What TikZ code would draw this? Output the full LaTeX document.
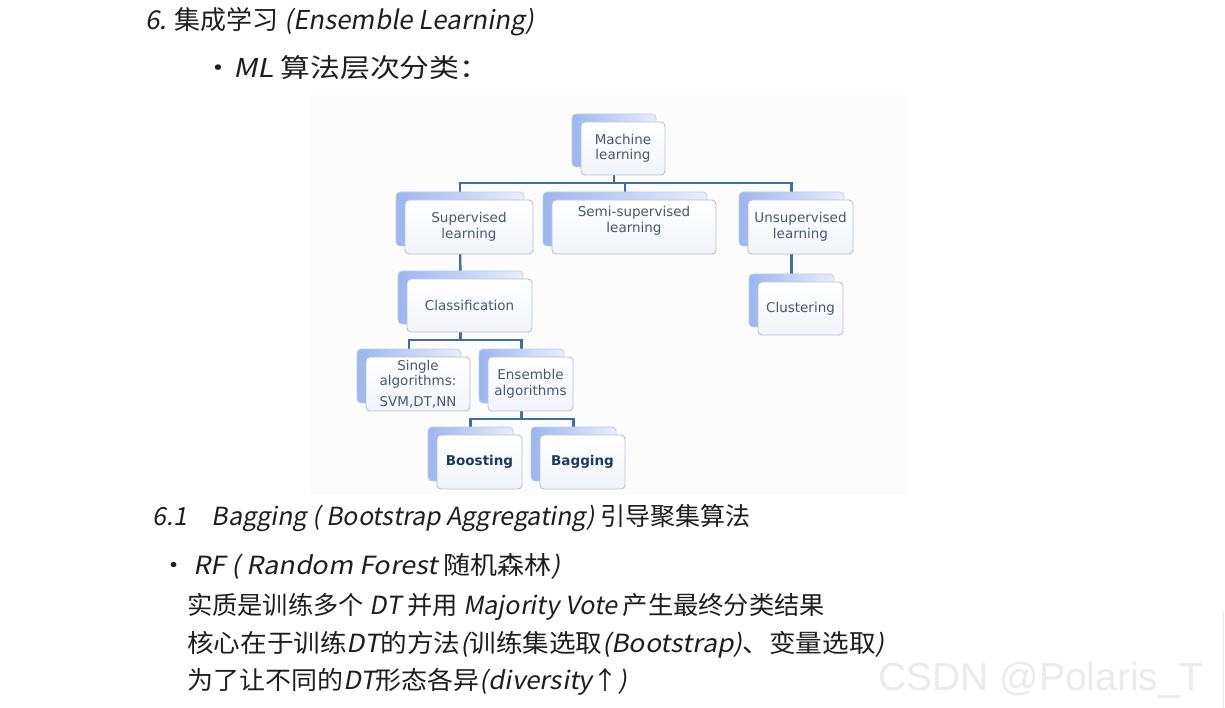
\documentclass[tikz,border=0pt]{standalone}
\usepackage{fontspec}
\usepackage{graphicx}
\setmainfont{DejaVu Sans}
\newfontfamily\hw{Noto Sans CJK SC}
\newfontfamily\hwi[FakeSlant=0.18]{Noto Sans CJK SC}
\newfontfamily\wmfont{Liberation Sans}
\usetikzlibrary{calc}
\pgfdeclarelayer{bgl}\pgfdeclarelayer{conl}
\pgfsetlayers{bgl,conl,main}
\definecolor{bbl}{HTML}{9DB5EE}
\definecolor{bbr}{HTML}{E8EEFB}
\definecolor{bbdraw}{HTML}{C3CEE8}
\definecolor{fbdraw}{HTML}{B6C1D4}
\definecolor{fbbot}{HTML}{F1F4FA}
\definecolor{boxtext}{HTML}{4B586C}
\definecolor{boldtext}{HTML}{1F3A5C}
\definecolor{connc}{HTML}{3F6E9F}
\definecolor{ink}{HTML}{1E1E1E}
\definecolor{wmc}{HTML}{EBEBEB}
\newcommand\mlbox[6]{%
  \node[backbox, minimum width=#4, minimum height=#5] (#1B) at (#2-9,#3-8) {};
  \node[frontbox, minimum width=#4, minimum height=#5] (#1) at (#2,#3) {#6};}
\begin{document}
\begin{tikzpicture}[x=1pt,y=-1pt,
  backbox/.style={rounded corners=4pt, draw=bbdraw, line width=0.8pt, left color=bbl, right color=bbr, inner sep=0pt},
  frontbox/.style={rounded corners=4pt, draw=fbdraw, line width=0.9pt, top color=white, bottom color=fbbot,
    inner sep=1pt, align=center, text=boxtext, font=\fontsize{13.5}{15.5}\selectfont},
  boxtxt/.style={align=center, text=boxtext, font=\fontsize{13.5}{15.5}\selectfont, inner sep=0pt},
  conn/.style={draw=connc, line width=2.4pt},
  hand/.style={anchor=west, text=ink, inner sep=0pt, font=\hw\fontsize{25}{29}\selectfont},
  handbig/.style={anchor=west, text=ink, inner sep=0pt, font=\hw\fontsize{26}{30}\selectfont}]
\useasboundingbox (0,0) rectangle (1225,708);
\begin{pgfonlayer}{bgl}
  \fill[white] (0,0) rectangle (1225,708);
  \fill[gray!2] (310,95) rectangle (908,495);
\end{pgfonlayer}

% boxes
\mlbox{ml}{623}{148.5}{84}{53}{Machine\\learning}
\mlbox{sup}{469}{227}{128}{54}{Supervised\\learning}
\mlbox{sem}{634}{227}{164}{54}{}
\node[boxtxt] (semt) at (634,221) {Semi-supervised\\learning};
\mlbox{uns}{800.5}{227}{105}{54}{Unsupervised\\learning}
\mlbox{cls}{469.5}{305.5}{125}{53}{Classification}
\mlbox{clu}{800.5}{308.5}{85}{53}{Clustering}
\mlbox{sgl}{418}{384}{104}{54}{Single\\algorithms:\\[5pt]SVM,DT,NN}
\mlbox{ens}{530.5}{384}{85}{54}{Ensemble\\algorithms}
\mlbox{boo}{479.5}{462}{85}{54}{\textcolor{boldtext}{\bfseries Boosting}}
\mlbox{bag}{582.5}{462}{85}{54}{\textcolor{boldtext}{\bfseries Bagging}}

% connectors
\begin{pgfonlayer}{conl}
  \coordinate (b1) at (0,183);
  \coordinate (b2) at (0,340);
  \coordinate (b3) at (0,419);
  \draw[conn] (mlB.center) -- (mlB.center |- b1);
  \draw[conn] (supB.center) |- (unsB.center |- b1) -- (unsB.center);
  \draw[conn] (semB.center |- b1) -- (semB.center);
  \draw[conn] (supB.center) -- (clsB.center);
  \draw[conn] (unsB.center) -- (cluB.center);
  \draw[conn] (clsB.center) -- (clsB.center |- b2);
  \draw[conn] (sglB.center) |- (ensB.center |- b2) -- (ensB.center);
  \draw[conn] (ensB.center) -- (ensB.center |- b3);
  \draw[conn] (booB.center) |- (bagB.center |- b3) -- (bagB.center);
\end{pgfonlayer}

% handwritten notes
\node[handbig] (t1) at (145,22) {{\hwi 6.} 集成学习 {\hwi (Ensemble Learning)}};
\node[handbig] (t2) at (203,68) {\scalebox{1.15}[1]{·{\hwi ML} 算法层次分类：}};
\node[hand] (t3) at (152,518) {{\hwi 6.1\quad Bagging ( Bootstrap Aggregating)} 引导聚集算法};
\node[hand] (t4) at (160,566) {\scalebox{1.08}[1]{· {\hwi RF ( Random Forest} 随机森林{\hwi )}}};
\node[hand] (t5) at (187,607) {\scalebox{1.01}[1]{实质是训练多个 {\hwi DT} 并用 {\hwi Majority Vote} 产生最终分类结果}};
\node[hand] (t6) at (187,645) {\scalebox{1.065}[1]{核心在于训练{\hwi DT}的方法{\hwi (}训练集选取{\hwi (Bootstrap)}、变量选取{\hwi )}}};
\node[hand] (t7) at (187,682) {\scalebox{1.04}[1]{为了让不同的{\hwi DT}形态各异{\hwi (diversity}↑{\hwi )}}};

% watermark
\node[anchor=west, inner sep=0pt, text=wmc, font=\wmfont\fontsize{39}{44}\selectfont] (wm) at (878,680) {CSDN @Polaris\_T};
\draw[gray!18, line width=0.8pt] (1223,612) -- (1223,708);
\end{tikzpicture}
\end{document}
